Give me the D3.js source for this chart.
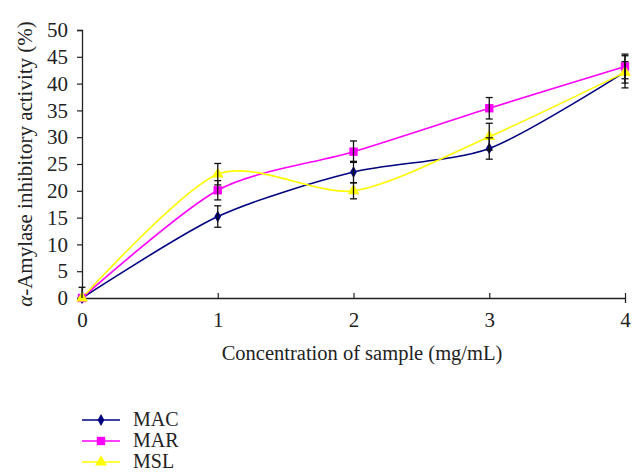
<!DOCTYPE html>
<html><head><meta charset="utf-8">
<script src="https://cdn.jsdelivr.net/npm/d3@7"></script>
<style>body{margin:0;background:#fff}</style>
</head><body><svg id="c" width="643" height="472"></svg>
<script>
const concentrations = [0, 1, 2, 3, 4];
const seriesNames = ["MAC", "MAR", "MSL"];
const macValues = [0, 15.2, 23.5, 27.9, 42.2];
const macErrors = [2, 2, 2, 2, 3];
const marValues = [0, 20.1, 27.3, 35.4, 43.2];
const marErrors = [0, 1.8, 2, 2, 2.3];
const mslValues = [0, 23.1, 20.0, 30.1, 42.1];
const mslErrors = [0, 2, 1.5, 2.5, 2];
const yTicks = [0, 5, 10, 15, 20, 25, 30, 35, 40, 45, 50];
const xTicks = [0, 1, 2, 3, 4];

const FONT = "'Liberation Serif', 'DejaVu Serif', serif";
const colors = {MAC: "#000080", MAR: "#ff00ff", MSL: "#ffff00"};
const symbols = {MAC: d3.symbolDiamond, MAR: d3.symbolSquare, MSL: d3.symbolTriangle};
const symSize = {MAC: 40, MAR: 70, MSL: 60};
const series = [
  {name: "MAC", values: macValues, errors: macErrors},
  {name: "MAR", values: marValues, errors: marErrors},
  {name: "MSL", values: mslValues, errors: mslErrors}
];

const svg = d3.select("#c");
const x = d3.scaleLinear().domain([0, 4]).range([82, 625]);
const y = d3.scaleLinear().domain([0, 50]).range([298, 30]);

svg.append("clipPath").attr("id", "plot").append("rect")
  .attr("x", 0).attr("y", 0).attr("width", 643).attr("height", y(0));

// axes
const xAxis = svg.append("g").attr("transform", `translate(0,${y(0)})`)
  .call(d3.axisBottom(x).tickValues(xTicks).tickFormat(d3.format("d")).tickSizeOuter(0).tickSize(5).tickPadding(9));
const yAxis = svg.append("g").attr("transform", `translate(${x(0)},0)`)
  .call(d3.axisLeft(y).tickValues(yTicks).tickSizeOuter(0).tickSize(5).tickPadding(9));
[xAxis, yAxis].forEach(a => {
  a.attr("font-family", FONT);
  a.select(".domain").attr("stroke", "#222").attr("stroke-width", 1.3);
  a.selectAll(".tick line").attr("stroke", "#222").attr("stroke-width", 1.2);
  a.selectAll("text").style("font-family", FONT).style("font-size", "21px").attr("fill", "#222");
});
xAxis.selectAll(".tick line").attr("y1", -5).attr("y2", 0);
yAxis.selectAll(".tick line").attr("x1", 0).attr("x2", -5);

svg.append("text").attr("x", 362).attr("y", 360).attr("text-anchor", "middle")
  .style("font-family", FONT).style("font-size", "20.5px").attr("fill", "#222")
  .text("Concentration of sample (mg/mL)");
const yl = svg.append("text").attr("transform", `translate(32,${(y(0)+y(50))/2}) rotate(-90)`)
  .attr("text-anchor", "middle").style("font-family", FONT).style("font-size", "21px").attr("fill", "#222");
yl.append("tspan").style("font-style", "italic").text("α");
yl.append("tspan").text("-Amylase inhibitory activity (%)");

const line = d3.line().x((d, i) => x(concentrations[i])).y(d => y(d)).curve(d3.curveCardinal.tension(0.2));

// lines
series.forEach(s => {
  svg.append("path").datum(s.values).attr("d", line).attr("fill", "none")
    .attr("stroke", colors[s.name]).attr("stroke-width", 1.6);
});
// markers
series.forEach(s => {
  svg.append("g").selectAll("path").data(s.values).join("path")
    .attr("transform", (d, i) => `translate(${x(concentrations[i])},${y(d)})`)
    .attr("d", d3.symbol().type(symbols[s.name]).size(symSize[s.name]))
    .attr("fill", colors[s.name]);
});
// error bars
series.forEach(s => {
  const g = svg.append("g").attr("stroke", "#111").attr("stroke-width", 1.3).attr("clip-path", "url(#plot)");
  s.values.forEach((v, i) => {
    const e = s.errors[i];
    if (!e) return;
    const cx = x(concentrations[i]);
    g.append("line").attr("x1", cx).attr("x2", cx).attr("y1", y(v - e)).attr("y2", y(v + e));
    g.append("line").attr("x1", cx - 3.5).attr("x2", cx + 3.5).attr("y1", y(v - e)).attr("y2", y(v - e));
    g.append("line").attr("x1", cx - 3.5).attr("x2", cx + 3.5).attr("y1", y(v + e)).attr("y2", y(v + e));
  });
});

// legend
const lg = svg.append("g");
seriesNames.forEach((n, i) => {
  const ly = 420 + i * 21;
  lg.append("line").attr("x1", 82).attr("x2", 120).attr("y1", ly).attr("y2", ly)
    .attr("stroke", colors[n]).attr("stroke-width", 1.6);
  lg.append("path").attr("transform", `translate(101,${ly})`)
    .attr("d", d3.symbol().type(symbols[n]).size(symSize[n])).attr("fill", colors[n]);
  lg.append("text").attr("x", 133).attr("y", ly + 6).style("font-family", FONT)
    .style("font-size", "20px").attr("fill", "#222").text(n);
});
</script></body></html>
